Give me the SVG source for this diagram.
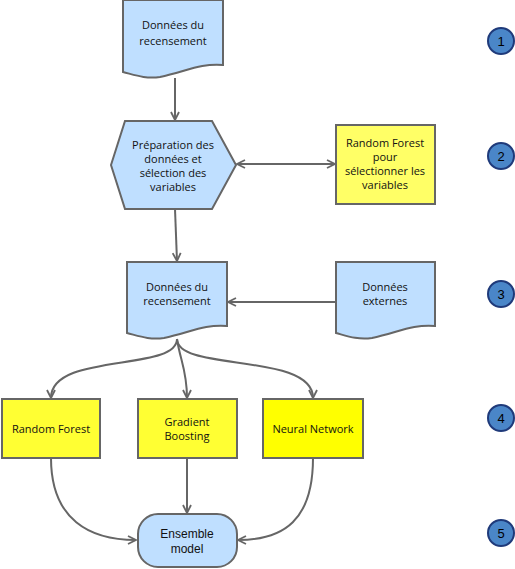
<svg xmlns="http://www.w3.org/2000/svg" width="515" height="569" viewBox="0 0 515 569">
<style>
.blue{fill:#bfdfff;stroke:#666;stroke-width:2}
.y1{fill:#ffff66;stroke:#666;stroke-width:2}
.y2{fill:#ffff33;stroke:#666;stroke-width:2}
.y3{fill:#ffff00;stroke:#666;stroke-width:2}
.t{font-family:"Open Sans","Noto Sans",sans-serif;font-size:11px;fill:#111;text-anchor:middle}
.ta{font-family:"Liberation Sans",Arial,sans-serif;font-size:12px;fill:#111;text-anchor:middle}
.c{fill:#4a86c8;stroke:#1f3a7a;stroke-width:2}
.n{font-family:"Liberation Sans",Arial,sans-serif;font-size:13px;fill:#000;text-anchor:middle}
.e{fill:none;stroke:#666;stroke-width:2}
</style>
<defs>
<marker id="a" viewBox="0 0 10 10" refX="9" refY="5" markerWidth="10" markerHeight="10" markerUnits="userSpaceOnUse" orient="auto-start-reverse">
<path d="M1,1 L9,5 L1,9" fill="none" stroke="#666" stroke-width="1.8"/>
</marker>
</defs>
<g id="connectors">
<path class="e" d="M175,78 L175,120" marker-end="url(#a)"/>
<path class="e" d="M237,164 L335,164" marker-start="url(#a)" marker-end="url(#a)"/>
<path class="e" d="M175,209 L177,261" marker-end="url(#a)"/>
<path class="e" d="M336,302 L228,302" marker-end="url(#a)"/>
<path class="e" d="M177,339 C177,372 51,352 51,398" marker-end="url(#a)"/>
<path class="e" d="M177,339 C180,360 187,370 187,398" marker-end="url(#a)"/>
<path class="e" d="M177,339 C177,372 313,352 313,398" marker-end="url(#a)"/>
<path class="e" d="M51,458 C51,520 90,540 136,540" marker-end="url(#a)"/>
<path class="e" d="M187,458 L187,513" marker-end="url(#a)"/>
<path class="e" d="M313,458 C313,520 284,540 238,540" marker-end="url(#a)"/>
</g>
<g id="n1">
<path class="blue" d="M123,0 L223,0 L223,65 C200,63 185,72 160,77 C145,79 135,75 123,72 Z"/>
<text class="t" x="173" y="29">Données du</text>
<text class="t" x="173" y="45">recensement</text>
</g>
<g id="n2">
<polygon class="blue" points="111,165 125,121 212,121 236,165 212,209 125,209"/>
<text class="t" x="173" y="149">Préparation des</text>
<text class="t" x="173" y="163">données et</text>
<text class="t" x="173" y="177">sélection des</text>
<text class="t" x="173" y="191">variables</text>
</g>
<g id="n3">
<rect class="y1" x="336" y="125" width="99" height="79"/>
<text class="t" x="385" y="147">Random Forest</text>
<text class="t" x="385" y="161">pour</text>
<text class="t" x="385" y="175">sélectionner les</text>
<text class="t" x="385" y="189">variables</text>
</g>
<g id="n4">
<path class="blue" d="M127,262 L227,262 L227,326 C204,324 189,333 164,338 C149,340 139,336 127,333 Z"/>
<text class="t" x="177" y="291">Données du</text>
<text class="t" x="177" y="305">recensement</text>
</g>
<g id="n5">
<path class="blue" d="M336,262 L435,262 L435,326 C412,324 397,333 372,338 C357,340 347,336 336,333 Z"/>
<text class="t" x="385" y="291">Données</text>
<text class="t" x="385" y="305">externes</text>
</g>
<g id="n6">
<rect class="y2" x="2" y="399" width="98" height="59"/>
<text class="t" x="51" y="433">Random Forest</text>
</g>
<g id="n7">
<rect class="y2" x="138" y="399" width="99" height="59"/>
<text class="t" x="187" y="426">Gradient</text>
<text class="t" x="187" y="440">Boosting</text>
</g>
<g id="n8">
<rect class="y3" x="263" y="399" width="100" height="59"/>
<text class="t" x="313" y="433">Neural Network</text>
</g>
<g id="n9">
<rect class="blue" x="138" y="514" width="99" height="53" rx="20" ry="20"/>
<text class="ta" x="187" y="538">Ensemble</text>
<text class="ta" x="187" y="553">model</text>
</g>
<g id="s1"><circle class="c" cx="501" cy="41" r="13"/><text class="n" x="501" y="46">1</text></g>
<g id="s2"><circle class="c" cx="501" cy="156" r="13"/><text class="n" x="501" y="161">2</text></g>
<g id="s3"><circle class="c" cx="501" cy="294" r="13"/><text class="n" x="501" y="299">3</text></g>
<g id="s4"><circle class="c" cx="501" cy="418" r="13"/><text class="n" x="501" y="423">4</text></g>
<g id="s5"><circle class="c" cx="501" cy="533" r="13"/><text class="n" x="501" y="538">5</text></g>
</svg>
